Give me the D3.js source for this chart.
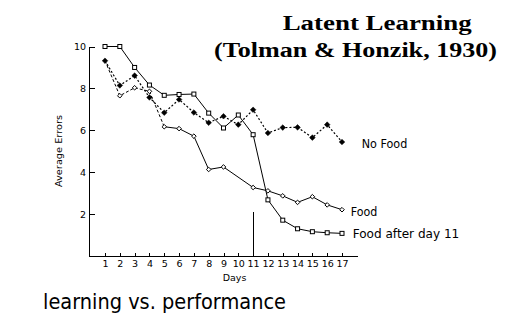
<!DOCTYPE html>
<html>
<head>
<meta charset="utf-8">
<script src="https://cdn.jsdelivr.net/npm/d3@7"></script>
<style>
  html, body { margin: 0; padding: 0; background: #fff; }
  svg { display: block; }
</style>
</head>
<body>
<svg id="chart" width="505" height="323"></svg>
<script>
// ---- data ----
const days = [1,2,3,4,5,6,7,8,9,10,11,12,13,14,15,16,17];
const noFood = [9.32, 8.14, 8.61, 7.57, 6.84, 7.47, 6.85, 6.36, 6.67, 6.27, 6.98, 5.87, 6.13, 6.14, 5.65, 6.27, 5.44];
const food = [9.32, 7.65, 8.03, 7.86, 6.17, 6.08, 5.72, 4.13, 4.25, null, 3.27, 3.11, 2.87, 2.56, 2.83, 2.44, 2.21];
const foodAfter11 = [10.0, 10.0, 9.0, 8.16, 7.67, 7.71, 7.73, 6.82, 6.11, 6.73, 5.79, 2.68, 1.71, 1.30, 1.16, 1.11, 1.08];
const yTicks = [2, 4, 6, 8, 10];
const switchDay = 11;
const switchMarkTop = 2.1;
const foodDashedUntil = 5;
const seriesLabels = ["No Food", "Food", "Food after day 11"];
const titleLines = ["Latent Learning", "(Tolman & Honzik, 1930)"];
const subtitle = "learning vs. performance";
const xLabel = "Days";
const yLabel = "Average Errors";

// ---- layout ----
const svg = d3.select("#chart");
const frameLeft = 89, frameRight = 358, frameBottom = 256, frameTop = 46.5;
const x = d3.scaleLinear().domain([1, 17]).range([105, 342]);
const y = d3.scaleLinear().domain([0, 10]).range([frameBottom, frameTop]);
const sans = "'DejaVu Sans', sans-serif";

// frame
svg.append("line").attr("x1", frameLeft).attr("x2", frameLeft)
  .attr("y1", y(10)).attr("y2", frameBottom + 0.5)
  .attr("stroke", "#000").attr("shape-rendering", "crispEdges");
svg.append("line").attr("x1", frameLeft).attr("x2", frameRight)
  .attr("y1", frameBottom).attr("y2", frameBottom)
  .attr("stroke", "#000").attr("shape-rendering", "crispEdges");

// y axis (ticks point inward)
const yAxis = d3.axisLeft(y).tickValues(yTicks).tickSizeInner(-6).tickSizeOuter(0).tickPadding(3);
const gy = svg.append("g").attr("transform", `translate(${frameLeft},0)`).call(yAxis);
gy.select(".domain").remove();
gy.selectAll("line").attr("shape-rendering", "crispEdges");
gy.selectAll("text").attr("font-family", sans).attr("font-size", 9.5).attr("fill", "#000");

// x axis (small inward ticks)
const xAxis = d3.axisBottom(x).tickValues(days).tickFormat(d3.format("d")).tickSizeInner(-3).tickSizeOuter(0).tickPadding(4);
const gx = svg.append("g").attr("transform", `translate(0,${frameBottom})`).call(xAxis);
gx.select(".domain").remove();
gx.selectAll("line").attr("shape-rendering", "crispEdges");
gx.selectAll("text").attr("font-family", sans).attr("font-size", 9.5).attr("fill", "#000");

// axis titles
svg.append("text").text(xLabel).attr("x", 234.5).attr("y", 281)
  .attr("text-anchor", "middle").attr("font-family", sans).attr("font-size", 9.5);
svg.append("text").text(yLabel)
  .attr("transform", "translate(62,151) rotate(-90)")
  .attr("text-anchor", "middle").attr("font-family", sans).attr("font-size", 9.5)
  .attr("textLength", 72).attr("lengthAdjust", "spacingAndGlyphs");

// vertical marker at day 11
svg.append("line").attr("x1", x(switchDay)).attr("x2", x(switchDay))
  .attr("y1", y(switchMarkTop)).attr("y2", frameBottom)
  .attr("stroke", "#000").attr("shape-rendering", "crispEdges");

// series
const toPts = arr => days.map((d, i) => ({ d, v: arr[i] })).filter(p => p.v !== null);
const line = d3.line().x(p => x(p.d)).y(p => y(p.v));

const pNo = toPts(noFood), pFood = toPts(food), pAfter = toPts(foodAfter11);

svg.append("path").attr("d", line(pNo)).attr("fill", "none")
  .attr("stroke", "#000").attr("stroke-width", 1.2).attr("stroke-dasharray", "2,2");
svg.append("path").attr("d", line(pFood.filter(p => p.d <= foodDashedUntil))).attr("fill", "none")
  .attr("stroke", "#000").attr("stroke-width", 1).attr("stroke-dasharray", "3,2");
svg.append("path").attr("d", line(pFood.filter(p => p.d >= foodDashedUntil))).attr("fill", "none")
  .attr("stroke", "#000").attr("stroke-width", 1);
svg.append("path").attr("d", line(pAfter)).attr("fill", "none")
  .attr("stroke", "#000").attr("stroke-width", 1);

// markers
const diamond = (s) => `M0,${-s}L${s},0L0,${s}L${-s},0Z`;
svg.append("g").selectAll("path").data(pFood.filter(p => p.d > 1)).join("path")
  .attr("transform", p => `translate(${x(p.d)},${y(p.v)})`)
  .attr("d", diamond(2.3)).attr("fill", "#fff").attr("stroke", "#000").attr("stroke-width", 1);
svg.append("g").selectAll("path").data(pNo).join("path")
  .attr("transform", p => `translate(${x(p.d)},${y(p.v)})`)
  .attr("d", diamond(2.8)).attr("fill", "#000").attr("stroke", "#000").attr("stroke-width", 0.5);
svg.append("g").selectAll("rect").data(pAfter).join("rect")
  .attr("x", p => x(p.d) - 2).attr("y", p => y(p.v) - 2)
  .attr("width", 4).attr("height", 4)
  .attr("fill", "#fff").attr("stroke", "#000").attr("stroke-width", 1);

// series labels
const lab = [
  { t: seriesLabels[0], x: 361.7, y: 148, w: 45.6 },
  { t: seriesLabels[1], x: 350.7, y: 216, w: 26.6 },
  { t: seriesLabels[2], x: 352.7, y: 238, w: 106.6 }
];
svg.append("g").selectAll("text").data(lab).join("text")
  .text(d => d.t).attr("x", d => d.x).attr("y", d => d.y)
  .attr("font-family", sans).attr("font-size", 12)
  .attr("textLength", d => d.w).attr("lengthAdjust", "spacingAndGlyphs");

// titles
const serif = "'Liberation Serif', 'Times New Roman', serif";
svg.append("text").text(titleLines[0]).attr("x", 282.7).attr("y", 29.5)
  .attr("font-family", serif).attr("font-weight", "bold").attr("font-size", 20)
  .attr("textLength", 189).attr("lengthAdjust", "spacingAndGlyphs");
svg.append("text").text(titleLines[1]).attr("x", 214).attr("y", 57)
  .attr("font-family", serif).attr("font-weight", "bold").attr("font-size", 20)
  .attr("textLength", 283).attr("lengthAdjust", "spacingAndGlyphs");

svg.append("text").text(subtitle).attr("x", 43).attr("y", 309)
  .attr("font-family", sans).attr("font-size", 21)
  .attr("textLength", 243).attr("lengthAdjust", "spacingAndGlyphs");
</script>
</body>
</html>
